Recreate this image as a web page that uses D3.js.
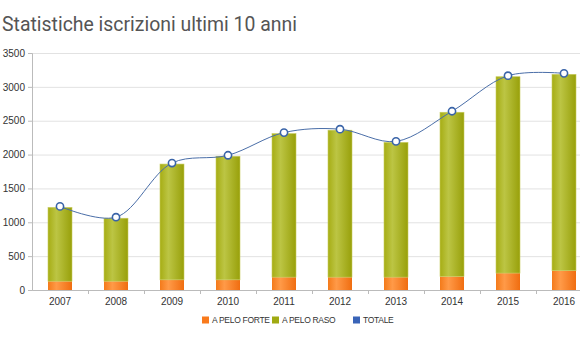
<!DOCTYPE html>
<html><head><meta charset="utf-8">
<script src="https://cdn.jsdelivr.net/npm/d3@7"></script>
<style>body{margin:0;background:#fff;overflow:hidden}</style>
</head><body><svg id="c" width="580" height="340"></svg>
<script>
const years = ["2007","2008","2009","2010","2011","2012","2013","2014","2015","2016"];
const forte = [130,130,150,150,190,190,190,200,250,285];
const raso  = [1090,930,1710,1825,2120,2170,1990,2425,2900,2900];
const totale = [1220,1060,1860,1975,2310,2360,2180,2625,3150,3185];
const yTicks = [0,500,1000,1500,2000,2500,3000,3500];
const legendLabels = ["A PELO FORTE","A PELO RASO","TOTALE"];

const svg = d3.select("#c");
const m = {l:32, t:53, b:50};
const W = 560, H = 290 - 53;
const defs = svg.append("defs");
function grad(id, stops){
  const g = defs.append("linearGradient").attr("id",id).attr("x1","0").attr("x2","1").attr("y1","0").attr("y2","0");
  stops.forEach(s=>g.append("stop").attr("offset",s[0]).attr("stop-color",s[1]));
}
grad("gO",[[0,"#f47a1a"],[0.35,"#ff9a48"],[1,"#f06d10"]]);
grad("gR",[[0,"#a6ad14"],[0.35,"#bcc544"],[1,"#98a00a"]]);

svg.append("text").attr("x",2).attr("y",31).text("Statistiche iscrizioni ultimi 10 anni")
  .attr("font-family","Roboto").attr("font-size",21).attr("fill","#555")
  .attr("textLength",295).attr("lengthAdjust","spacingAndGlyphs");

const g = svg.append("g").attr("transform",`translate(${m.l},${m.t})`);
const x = d3.scaleBand().domain(years).range([0,W]);
const y = d3.scaleLinear().domain([0,3500]).range([H,0]);

g.selectAll(".grid").data(yTicks).join("line")
  .attr("x1",0).attr("x2",W).attr("y1",d=>y(d)+0.5).attr("y2",d=>y(d)+0.5)
  .attr("stroke","#e2e2e2");

const yAx = g.append("g").call(d3.axisLeft(y).tickValues(yTicks).tickFormat(d3.format("d")).tickSize(4).tickPadding(3));
yAx.select(".domain").attr("stroke","#bbb");
yAx.selectAll(".tick line").attr("stroke","#bbb");
yAx.selectAll("text").attr("font-family","Liberation Sans").attr("font-size",10).attr("fill","#333");

const xAx = g.append("g").attr("transform",`translate(0,${H})`)
  .call(d3.axisBottom(x).tickSize(0).tickPadding(8));
xAx.select(".domain").attr("stroke","#bbb");
xAx.selectAll("text").attr("font-family","Liberation Sans").attr("font-size",10).attr("fill","#333");
g.selectAll(".xt").data(years.slice(1)).join("line")
  .attr("x1",d=>x(d)+0.5).attr("x2",d=>x(d)+0.5).attr("y1",H).attr("y2",H+4).attr("stroke","#bbb");

const bw = 24;
const bx = d => x(d) + x.bandwidth()/2 - bw/2;
g.selectAll(".bo").data(years).join("rect")
  .attr("x",d=>bx(d)).attr("width",bw)
  .attr("y",(d,i)=>y(forte[i])).attr("height",(d,i)=>y(0)-y(forte[i]))
  .attr("fill","url(#gO)");
g.selectAll(".br").data(years).join("rect")
  .attr("x",d=>bx(d)).attr("width",bw)
  .attr("y",(d,i)=>y(forte[i]+raso[i])).attr("height",(d,i)=>y(forte[i])-y(forte[i]+raso[i]))
  .attr("fill","url(#gR)").attr("stroke","#c8cc60").attr("stroke-width",0.6);

const cx = d => x(d) + x.bandwidth()/2;
const line = d3.line().x((d,i)=>cx(years[i])).y(d=>y(d)-1).curve(d3.curveCatmullRom);
g.append("path").attr("d",line(totale)).attr("fill","none").attr("stroke","#4a6ea8").attr("stroke-width",1);
g.selectAll(".pt").data(totale).join("circle")
  .attr("cx",(d,i)=>cx(years[i])).attr("cy",d=>y(d)-1).attr("r",3.6)
  .attr("fill","#fff").attr("stroke","#3a64a8").attr("stroke-width",1.6);

const lc = ["#f97a1c","#a0aa12","#3a64b8"];
const lg = svg.append("g").attr("transform","translate(202,323)");
const offs = [0,70,151];
legendLabels.forEach((t,i)=>{
  lg.append("rect").attr("x",offs[i]).attr("y",-6.5).attr("width",7).attr("height",7).attr("fill",lc[i]);
  lg.append("text").attr("x",offs[i]+10).attr("y",0).text(t)
    .attr("font-family","Liberation Sans").attr("font-size",8.5).attr("letter-spacing",-0.3).attr("fill","#333");
});
</script></body></html>
